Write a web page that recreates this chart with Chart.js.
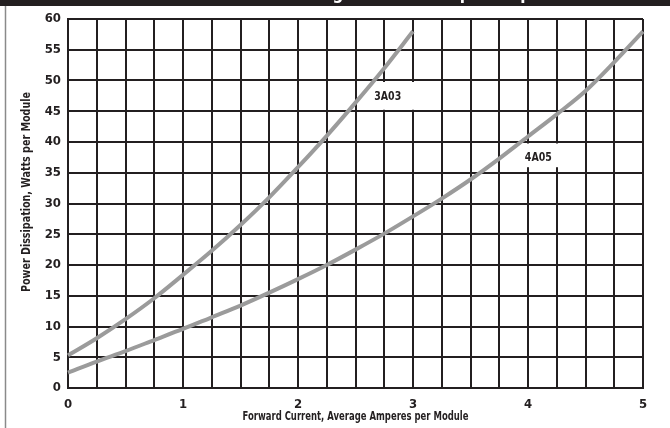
<!DOCTYPE html>
<html>
<head>
<meta charset="utf-8">
<script src="https://cdn.jsdelivr.net/npm/chart.js@4.4.1/dist/chart.umd.min.js"></script>
<style>
  html, body { margin: 0; padding: 0; background: #fff; }
  #wrap { width: 670px; height: 428px; position: relative; }
</style>
</head>
<body>
<div id="wrap"><canvas id="chart"></canvas></div>
<script>
// Значения (шаг 0.25 А)
const amps3A03 = [0, 0.25, 0.5, 0.75, 1, 1.25, 1.5, 1.75, 2, 2.25, 2.5, 2.75, 3];
const watts3A03 = [5.3, 8.1, 11.2, 14.6, 18.4, 22.3, 26.5, 31.0, 35.9, 41.0, 46.4, 52.0, 58.0];

const amps4A05 = [0, 0.25, 0.5, 0.75, 1, 1.25, 1.5, 1.75, 2, 2.25, 2.5, 2.75, 3,
  3.25, 3.5, 3.75, 4, 4.25, 4.5, 4.75, 5];
const watts4A05 = [2.5, 4.3, 6.0, 7.8, 9.6, 11.5, 13.4, 15.5, 17.7, 20.0, 22.5, 25.1, 27.9,
  30.8, 33.9, 37.3, 40.9, 44.5, 48.3, 53.0, 58.0];

const xTickLabels = ["0", "1", "2", "3", "4", "5"];
const yTickLabels = ["0", "5", "10", "15", "20", "25", "30", "35", "40", "45", "50", "55", "60"];

const xTitle = "Forward Current, Average Amperes per Module";
const yTitle = "Power Dissipation, Watts per Module";

const FONT = '"Liberation Sans Narrow", "DejaVu Sans Condensed", "Roboto Condensed", sans-serif';
const INK = "#231f20";
const CURVE = "#9b9b9b";

function toPoints(xs, ys) {
  return xs.map((x, i) => ({ x: x, y: ys[i] }));
}

// узкий текст: сжимаем по горизонтали до нужной ширины
function narrowText(ctx, text, cx, cy, width, angle) {
  ctx.save();
  ctx.translate(cx, cy);
  ctx.rotate(angle);
  const w = ctx.measureText(text).width;
  ctx.scale(width / w, 1);
  ctx.fillText(text, 0, 0);
  ctx.restore();
}

// Рамка, шапка и подписи кривых
const decor = {
  id: "decor",
  beforeDraw(chart) {
    const ctx = chart.ctx;
    ctx.save();
    ctx.fillStyle = "#fff";
    ctx.fillRect(0, 0, chart.width, chart.height);
    ctx.fillStyle = INK;
    ctx.fillRect(0, 0, chart.width, 6);
    // заголовок почти целиком обрезан сверху
    ctx.font = "bold 17px " + FONT;
    ctx.fillStyle = "#fff";
    ctx.textBaseline = "alphabetic";
    const title = "Average Power Dissipation per Module";
    const before = ctx.measureText("Avera").width;
    const gW = ctx.measureText("g").width;
    ctx.fillText(title, 338 - before - gW / 2, -1);
    ctx.strokeStyle = "#8a8a8a";
    ctx.lineWidth = 1.5;
    ctx.beginPath();
    ctx.moveTo(5.5, 6);
    ctx.lineTo(5.5, chart.height);
    ctx.stroke();
    ctx.restore();
  },
  beforeDatasetsDraw(chart) {
    const ctx = chart.ctx;
    const xs = chart.scales.x;
    const ys = chart.scales.y;
    ctx.save();
    ctx.fillStyle = "#fff";
    // 3A03
    let l = xs.getPixelForValue(2.62), r = xs.getPixelForValue(3) + 2;
    let t = ys.getPixelForValue(50) + 1.5, b = ys.getPixelForValue(45) - 1.5;
    ctx.fillRect(l, t, r - l, b - t);
    // 4A05
    l = xs.getPixelForValue(3.85); r = xs.getPixelForValue(4.25) + 2;
    t = ys.getPixelForValue(40) + 1.5; b = ys.getPixelForValue(35.9);
    ctx.fillRect(l, t, r - l, b - t);

    ctx.fillStyle = INK;
    ctx.font = "bold 12px " + FONT;
    ctx.textAlign = "center";
    ctx.textBaseline = "middle";
    narrowText(ctx, "3A03", xs.getPixelForValue(2.78), ys.getPixelForValue(47.4), 27, 0);
    narrowText(ctx, "4A05", xs.getPixelForValue(4.09), ys.getPixelForValue(37.4), 27, 0);
    ctx.restore();
  },
  afterDraw(chart) {
    const ctx = chart.ctx;
    const a = chart.chartArea;
    ctx.save();
    ctx.fillStyle = INK;
    ctx.font = "bold 13px " + FONT;
    ctx.textAlign = "center";
    ctx.textBaseline = "middle";
    narrowText(ctx, xTitle, (a.left + a.right) / 2, 417, 226, 0);
    narrowText(ctx, yTitle, 27, 192, 200, -Math.PI / 2);
    ctx.restore();
  }
};

const ctx = document.getElementById("chart").getContext("2d");
new Chart(ctx, {
  type: "line",
  data: {
    datasets: [
      {
        label: "3A03",
        data: toPoints(amps3A03, watts3A03),
        borderColor: CURVE,
        borderWidth: 4,
        pointRadius: 0,
        cubicInterpolationMode: "monotone",
        clip: false,
      },
      {
        label: "4A05",
        data: toPoints(amps4A05, watts4A05),
        borderColor: CURVE,
        borderWidth: 4,
        pointRadius: 0,
        cubicInterpolationMode: "monotone",
        clip: false,
      },
    ],
  },
  options: {
    responsive: true,
    maintainAspectRatio: false,
    animation: false,
    layout: { padding: { left: 0, right: 27, top: 19, bottom: 0 } },
    plugins: {
      legend: { display: false },
      tooltip: { enabled: false },
    },
    scales: {
      x: {
        type: "linear",
        min: 0,
        max: 5,
        afterFit: (s) => { s.height = 40; },
        afterBuildTicks: (s) => {
          s.ticks = [];
          for (let i = 0; i <= 20; i++) s.ticks.push({ value: i * 0.25 });
        },
        ticks: {
          padding: 9,
          maxRotation: 0,
          autoSkip: false,
          color: INK,
          font: { family: FONT, size: 13, weight: "bold" },
          callback: (v) => {
            const idx = xTickLabels.indexOf(String(v));
            return idx >= 0 ? xTickLabels[idx] : "";
          },
        },
        grid: { color: INK, lineWidth: 2, drawTicks: false },
        border: { color: INK, width: 2 },
      },
      y: {
        min: 0,
        max: 60,
        afterFit: (s) => { s.width = 68; },
        afterBuildTicks: (s) => {
          s.ticks = yTickLabels.map((t) => ({ value: Number(t) }));
        },
        ticks: {
          padding: 7,
          autoSkip: false,
          color: INK,
          font: { family: FONT, size: 13, weight: "bold" },
        },
        grid: { color: INK, lineWidth: 2, drawTicks: false },
        border: { color: INK, width: 2 },
      },
    },
  },
  plugins: [decor],
});
</script>
</body>
</html>
